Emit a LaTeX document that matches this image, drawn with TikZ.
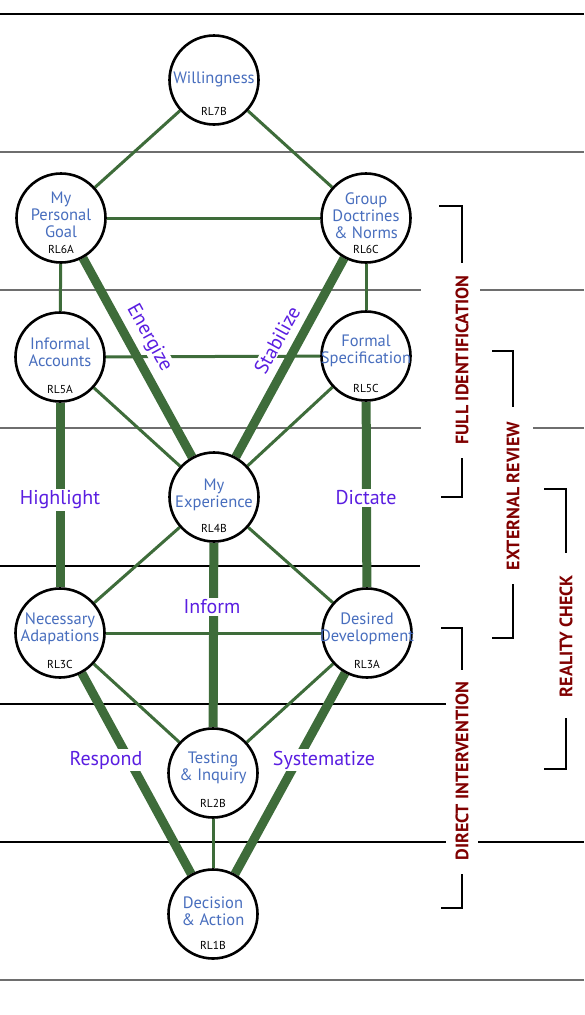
\documentclass[tikz,border=0pt]{standalone}
\usepackage{fontspec}
\setmainfont{PT Sans}
\usetikzlibrary{calc,backgrounds}
\definecolor{leaf}{RGB}{62,108,58}
\definecolor{nodeblue}{RGB}{72,110,190}
\definecolor{labpurple}{RGB}{90,30,225}
\definecolor{brred}{RGB}{128,0,0}
\definecolor{sepgray}{RGB}{110,110,110}
\newcommand{\nodefnt}{\fontsize{16.5}{17}\selectfont}
\newcommand{\rlfnt}{\fontsize{11.5}{12}\selectfont}
\newcommand{\labfnt}{\fontsize{20}{22}\selectfont}
\newcommand{\brfnt}{\fontsize{18}{20}\selectfont\bfseries}
\tikzset{
  circ/.style={circle, draw=black, line width=2.6pt, minimum size=89pt, inner sep=0pt, fill=white},
  ntext/.style={font=\nodefnt, text=nodeblue, align=center, inner sep=0pt},
  rl/.style={font=\rlfnt, text=black, inner sep=0pt},
  thinl/.style={draw=leaf, line width=3pt},
  thickl/.style={draw=leaf, line width=9pt},
  lab/.style={font=\labfnt, text=labpurple, fill=white, inner sep=1.5pt},
  rlab/.style={font=\labfnt, text=labpurple, fill=white, inner xsep=0pt, inner ysep=1pt},
  sepg/.style={line width=1.8pt, draw=sepgray},
  sepb/.style={line width=1.3pt, draw=black},
  brk/.style={line width=2.2pt, draw=black},
  btext/.style={font=\brfnt, text=brred, rotate=90, inner sep=0pt},
}
\begin{document}
\begin{tikzpicture}[x=1pt,y=-1pt]
\useasboundingbox (0,0) rectangle (584,1015);
% circles
\node[circ] (will) at (214,80) {};
\node[circ] (goal) at (61,218) {};
\node[circ] (group) at (366,218) {};
\node[circ] (inf) at (60,357) {};
\node[circ] (form) at (366,356) {};
\node[circ] (exp) at (214,497) {};
\node[circ] (nec) at (60,633) {};
\node[circ] (des) at (367,633) {};
\node[circ] (test) at (213,773) {};
\node[circ] (dec) at (213,914) {};
% texts in circles
\node[ntext] at ($(will)+(0,-1)$) {Willingness};
\node[rl] at ($(will)+(0,31)$) {RL7B};
\node[ntext] at ($(goal)+(0,-3)$) {My\\Personal\\Goal};
\node[rl] at ($(goal)+(0,31)$) {RL6A};
\node[ntext] at ($(group)+(0,-2)$) {Group\\Doctrines\\\& Norms};
\node[rl] at ($(group)+(0,31)$) {RL6C};
\node[ntext] at ($(inf)+(0,-5)$) {Informal\\Accounts};
\node[rl] at ($(inf)+(0,32)$) {RL5A};
\node[ntext] at ($(form)+(0,-5)$) {Formal\\Specification};
\node[rl] at ($(form)+(0,32)$) {RL5C};
\node[ntext] at ($(exp)+(0,-2)$) {My\\Experience};
\node[rl] at ($(exp)+(0,31)$) {RL4B};
\node[ntext] at ($(nec)+(0,-4)$) {Necessary\\Adapations};
\node[rl] at ($(nec)+(0,31)$) {RL3C};
\node[ntext] at ($(des)+(0,-4)$) {Desired\\Development};
\node[rl] at ($(des)+(0,31)$) {RL3A};
\node[ntext] at ($(test)+(0,-5)$) {Testing\\\& Inquiry};
\node[rl] at ($(test)+(0,30)$) {RL2B};
\node[ntext] at ($(dec)+(0,-3)$) {Decision\\\& Action};
\node[rl] at ($(dec)+(0,31)$) {RL1B};
% connectors
\begin{scope}[on background layer]
  % separators
  \draw[sepb,line width=1.8pt] (0,14) -- (584,14);
  \draw[sepg] (0,152) -- (584,152);
  \draw[sepg] (0,290) -- (421,290);
  \draw[sepg] (480,290) -- (584,290);
  \draw[sepg] (0,428) -- (421,428);
  \draw[sepg] (533,428) -- (584,428);
  \draw[sepb] (0,566) -- (420,566);
  \draw[sepb] (0,704) -- (446,704);
  \draw[sepb] (0,842) -- (446,842);
  \draw[sepb] (478,842) -- (584,842);
  \draw[sepg] (0,980) -- (584,980);
  % thin
  \draw[thinl] (will) -- (goal);
  \draw[thinl] (will) -- (group);
  \draw[thinl] (goal) -- (group);
  \draw[thinl] (goal) -- (inf);
  \draw[thinl] (group) -- (form);
  \draw[thinl] (inf) -- (form);
  \draw[thinl] (inf) -- (exp);
  \draw[thinl] (form) -- (exp);
  \draw[thinl] (exp) -- (nec);
  \draw[thinl] (exp) -- (des);
  \draw[thinl] (nec) -- (des);
  \draw[thinl] (nec) -- (test);
  \draw[thinl] (des) -- (test);
  \draw[thinl] (test) -- (dec);
  % thick
  \draw[thickl] (goal) -- (exp);
  \draw[thickl] (group) -- (exp);
  \draw[thickl] (inf) -- (nec);
  \draw[thickl] (form) -- (des);
  \draw[thickl] (exp) -- (test);
  \draw[thickl] (nec) -- (dec);
  \draw[thickl] (des) -- (dec);
\end{scope}
% labels
\node[rlab, rotate=-61] (energize) at (149,338) {Energize};
\node[rlab, rotate=61] (stabilize) at (277,340) {Stabilize};
\node[lab] (highlight) at (60,500) {Highlight};
\node[lab] (dictate) at (366,498) {Dictate};
\node[lab] (inform) at (212,607) {Inform};
\node[lab] (respond) at (106,760) {Respond};
\node[lab] (systematize) at (324,760) {Systematize};
% brackets
\node[btext] (fullid) at (462,360) {FULL IDENTIFICATION};
\draw[brk] (439,206) -- (462,206) -- (462,263);
\draw[brk] (462,458) -- (462,497) -- (441,497);
\node[btext] (extrev) at (513,496) {EXTERNAL REVIEW};
\draw[brk] (492,351) -- (513,351) -- (513,407);
\draw[brk] (513,584) -- (513,638) -- (492,638);
\node[btext] (reality) at (566,636) {REALITY CHECK};
\draw[brk] (544,489) -- (566,489) -- (566,553);
\draw[brk] (566,718) -- (566,769) -- (544,769);
\node[btext] (direct) at (462,771) {DIRECT INTERVENTION};
\draw[brk] (441,628) -- (462,628) -- (462,670);
\draw[brk] (462,874) -- (462,908) -- (441,908);
\end{tikzpicture}
\end{document}
